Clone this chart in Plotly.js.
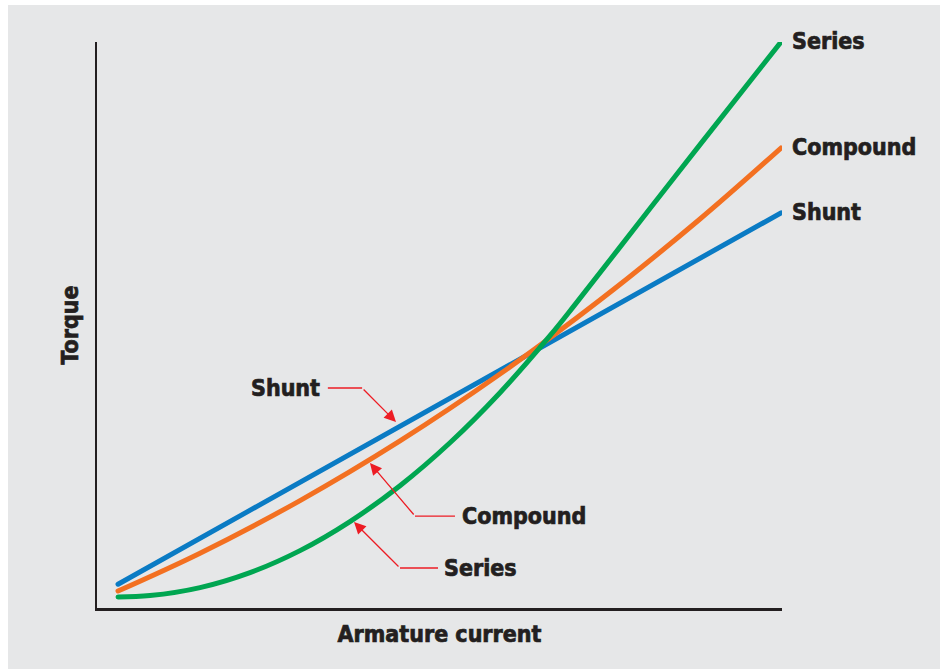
<!DOCTYPE html>
<html>
<head>
<meta charset="utf-8">
<script src="https://cdn.plot.ly/plotly-3.0.1.min.js"></script>
<style>
html,body{margin:0;padding:0;background:#fff;}
#chart{width:940px;height:669px;}
#chart .scatterlayer path.js-line{stroke-linecap:round;}
#chart text.annotation-text, #chart text.xtitle, #chart text.ytitle{stroke:#231f20;stroke-width:0.7px;}
</style>
</head>
<body>
<div id="chart"></div>
<script>
// Armature current (arbitrary units, 0-100) and torque (arbitrary units, 0-100)
const seriesNames = ["Series", "Compound", "Shunt"];
const shuntX = [3.07, 99.85];
const shuntY = [4.2, 69.8];
const compoundX = [3.07, 15.04, 29.64, 44.23, 58.83, 73.43, 88.03, 99.85];
const compoundY = [3.00, 9.68, 18.98, 29.52, 41.33, 54.40, 68.73, 81.27];
const seriesX = [3.07, 7.74, 15.04, 22.34, 29.64, 36.93, 44.23, 51.53, 58.83, 66.13, 69.78, 80.73, 88.03, 99.85];
const seriesY = [1.94, 2.19, 3.60, 6.25, 10.14, 15.27, 21.61, 29.20, 38.04, 48.11, 53.60, 70.57, 81.87, 100.0];
const xTitle = "Armature current";
const yTitle = "Torque";
// callouts
const calloutLabels = ["Shunt", "Compound", "Series"];
const calloutTextX = [32.85, 53.0, 50.4];
const calloutTextY = [38.87, 16.25, 7.07];
const calloutLineStartX = [33.7, 52.26, 49.78];
const calloutElbowX = [38.7, 46.42, 44.23];
const calloutTipX = [43.65, 39.85, 37.52];
const calloutTipY = [32.86, 25.6, 15.19];

const colors = {Series: "#00a651", Compound: "#f37021", Shunt: "#0a7bc4"};
const ink = "#231f20";
const red = "#ed1c24";
const FONT = "'DejaVu Sans Condensed', 'Liberation Sans Narrow', sans-serif";
const FS = 23;

const dataMap = {
  Series: [seriesX, seriesY],
  Compound: [compoundX, compoundY],
  Shunt: [shuntX, shuntY]
};

const traces = ["Shunt", "Compound", "Series"].map(n => ({
  x: dataMap[n][0], y: dataMap[n][1], mode: "lines", name: n,
  line: {color: colors[n], width: 5, shape: n === "Shunt" ? "linear" : "spline", smoothing: 1},
  cliponaxis: false, hoverinfo: "skip"
}));

const annotations = [];
seriesNames.forEach(n => {
  const xs = dataMap[n][0], ys = dataMap[n][1];
  annotations.push({
    x: xs[xs.length - 1], y: ys[ys.length - 1], xref: "x", yref: "y",
    text: n, showarrow: false, xanchor: "left", yanchor: "middle", xshift: 9, yshift: 1,
    font: {family: FONT, size: FS, color: ink, weight: 700}
  });
});
const shapes = [{
  type: "rect", xref: "paper", yref: "paper",
  x0: -0.1299, x1: 1.2307, y0: -0.1078, y1: 1.0654,
  fillcolor: "#e6e7e8", line: {width: 0}, layer: "below"
}];
calloutLabels.forEach((lab, i) => {
  annotations.push({
    x: calloutTextX[i], y: calloutTextY[i], xref: "x", yref: "y",
    text: lab, showarrow: false, xanchor: i === 0 ? "right" : "left", yanchor: "middle",
    font: {family: FONT, size: FS, color: ink, weight: 700}
  });
  shapes.push({
    type: "line", xref: "x", yref: "y",
    x0: calloutLineStartX[i], x1: calloutElbowX[i], y0: calloutTextY[i], y1: calloutTextY[i],
    line: {color: red, width: 1.3}
  });
  annotations.push({
    x: calloutTipX[i], y: calloutTipY[i], xref: "x", yref: "y",
    ax: calloutElbowX[i], ay: calloutTextY[i], axref: "x", ayref: "y",
    text: "", showarrow: true, arrowhead: 2, arrowsize: 1.8, arrowwidth: 1.3, arrowcolor: red,
    standoff: 0, startstandoff: 0
  });
});

const layout = {
  width: 940, height: 669,
  margin: {l: 97, r: 158, t: 42, b: 61},
  paper_bgcolor: "#ffffff",
  plot_bgcolor: "rgba(0,0,0,0)",
  showlegend: false,
  xaxis: {
    range: [0, 100], showgrid: false, zeroline: false, showticklabels: false, ticks: "",
    showline: true, linecolor: ink, linewidth: 2.5, fixedrange: true,
    title: {text: xTitle, standoff: 17, font: {family: FONT, size: FS, color: ink, weight: 700}}
  },
  yaxis: {
    range: [0, 100], showgrid: false, zeroline: false, showticklabels: false, ticks: "",
    showline: true, linecolor: ink, linewidth: 2.5, fixedrange: true,
    title: {text: yTitle, standoff: 10, font: {family: FONT, size: FS, color: ink, weight: 700}}
  },
  shapes: shapes,
  annotations: annotations
};

Plotly.newPlot("chart", traces, layout, {displayModeBar: false, staticPlot: true});
</script>
</body>
</html>
